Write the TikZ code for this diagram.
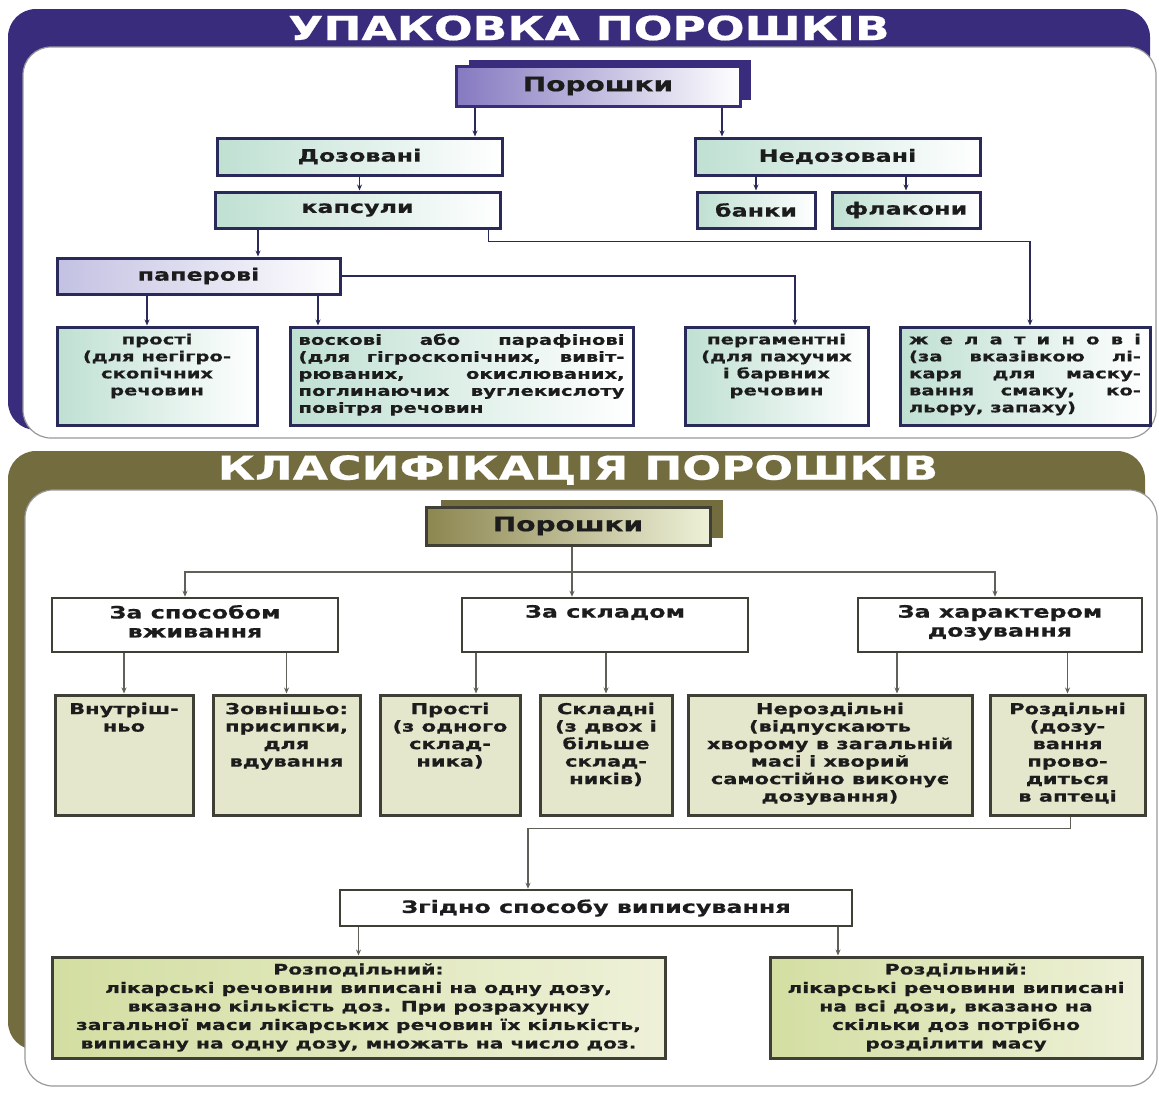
\documentclass[tikz,border=0pt]{standalone}
\usepackage{fontspec}
\setmainfont{DejaVu Sans}
\newfontfamily\widefont{DejaVu Sans}[FakeStretch=1.4, FakeBold=0.5]
\newfontfamily\titlefont{DejaVu Sans}[FakeStretch=1.38, FakeBold=0.6]
\usetikzlibrary{arrows.meta,positioning}

\definecolor{upurple}{HTML}{3A2C7C}
\definecolor{unavy}{HTML}{2A2A5A}
\definecolor{uteal}{HTML}{BFE0D2}
\definecolor{ulav}{HTML}{C3C1E2}
\definecolor{umid}{HTML}{8579C0}
\definecolor{kolive}{HTML}{736C3E}
\definecolor{kdark}{HTML}{3F3F35}
\definecolor{kfill}{HTML}{E4E7CB}
\definecolor{kgreen}{HTML}{D3DEA2}
\definecolor{kpale}{HTML}{EEF1D8}
\definecolor{kpor}{HTML}{8C8650}
\definecolor{kline}{HTML}{606058}
\definecolor{textdark}{HTML}{1C1C1C}

\begin{document}
\begin{tikzpicture}[x=1pt, y=-1pt,
  paneltitle/.style={text=white, inner sep=0pt, font=\titlefont\bfseries\fontsize{33}{33}\selectfont},
  panel/.style={draw=black!40, line width=1.2pt, fill=white, rounded corners=28pt},
  ubox/.style={draw=unavy, line width=3pt, left color=uteal, right color=white, inner sep=0pt,
    minimum height=37pt, text=textdark, font=\widefont\bfseries\fontsize{17}{20}\selectfont},
  utext/.style={inner sep=0pt, text=textdark, font=\widefont\bfseries\fontsize{14}{17}\selectfont},
  uconn/.style={draw=unavy, line width=1.3pt, -{Stealth[length=6pt,width=5pt]}},
  kbox/.style={draw=kdark, line width=3pt, fill=kfill, inner sep=0pt, minimum height=120pt},
  kwhite/.style={draw=kdark, line width=2.5pt, fill=white, inner sep=0pt, text=textdark,
    font=\widefont\bfseries\fontsize{17}{19}\selectfont},
  ktext/.style={inner sep=0pt, align=center, text=textdark, font=\widefont\bfseries\fontsize{15}{17.5}\selectfont},
  kconn/.style={draw=kline, line width=1.3pt, -{Stealth[length=6pt,width=5pt]}},
  headtext/.style={text=textdark, font=\widefont\bfseries\fontsize{20}{20}\selectfont},
]
\useasboundingbox (0,0) rectangle (1159,1100);
\fill[white] (0,0) rectangle (1159,1100);

% upper panel
\fill[upurple, rounded corners=28pt] (8,9) rectangle (1150,430);
\draw[panel] (23,47) rectangle (1156,438);
\node[paneltitle] (utitle) at (589,28) {УПАКОВКА ПОРОШКІВ};

\node[fill=upurple, minimum width=282pt, minimum height=40pt] (uporback) at (610,80) {};
\node[headtext, draw=upurple, line width=3pt, left color=umid, right color=white,
  minimum width=284pt, minimum height=40pt] (upor) at (598,86) {Порошки};

\node[ubox, minimum width=285pt] (dozovani) at (359.5,156.5) {Дозовані};
\node[ubox, minimum width=285pt] (nedozovani) at (837.5,156.5) {Недозовані};
\node[ubox, minimum width=285pt, minimum height=36pt] (kapsuly) at (357.5,210) {капсули};
\node[ubox, minimum width=118pt, minimum height=36pt] (banky) at (756,210) {банки};
\node[ubox, minimum width=148pt, minimum height=36pt] (flakony) at (906,210) {флакони};
\node[ubox, left color=ulav, minimum width=283pt, minimum height=36pt] (paperovi) at (198.5,276) {паперові};

\node[ubox, minimum width=200pt, minimum height=98pt] (prosti) at (157,376) {};
\node[ubox, minimum width=343pt, minimum height=98pt] (voskovi) at (461.5,376) {};
\node[ubox, minimum width=183pt, minimum height=98pt] (perhamentni) at (776.5,376) {};
\node[ubox, minimum width=250pt, minimum height=98pt] (zhelatynovi) at (1025,376) {};

\node[utext, align=center, below=8pt of prosti.north] (prostitxt)
  {прості\\(для негігро-\\скопічних\\речовин};
\node[utext, align=justify, text width=326pt, below=8pt of voskovi.north] (voskovitxt)
  {воскові або парафінові\linebreak (для гігроскопічних, вивіт-\linebreak
   рюваних, окислюваних,\linebreak поглинаючих вуглекислоту\linebreak повітря речовин};
\node[utext, align=center, below=8pt of perhamentni.north] (perhamentnitxt)
  {пергаментні\\(для пахучих\\і барвних\\речовин};
\node[utext, align=justify, text width=232pt, below=8pt of zhelatynovi.north] (zhelatynovitxt)
  {ж е л а т и н о в і\linebreak (за вказівкою лі-\linebreak каря для маску-\linebreak
   вання смаку, ко-\linebreak льору, запаху)};

\draw[uconn] ([xshift=-123pt]upor.south) -- ([xshift=115.5pt]dozovani.north);
\draw[uconn] ([xshift=124pt]upor.south) -- ([xshift=-115.5pt]nedozovani.north);
\draw[uconn] (dozovani.south) -- (dozovani.south |- kapsuly.north);
\draw[uconn] (banky.north |- nedozovani.south) -- (banky.north);
\draw[uconn] (flakony.north |- nedozovani.south) -- (flakony.north);
\draw[uconn] ([xshift=-99.5pt]kapsuly.south) -- ([xshift=59.5pt]paperovi.north);
\draw[uconn] ([xshift=-13pt]kapsuly.south east) -- ++(0,12) -| ([xshift=5pt]zhelatynovi.north);
\draw[uconn] (paperovi.east) -| ([xshift=18.5pt]perhamentni.north);
\draw[uconn] ([xshift=-51.5pt]paperovi.south) -- ([xshift=-10pt]prosti.north);
\draw[uconn] ([xshift=119.5pt]paperovi.south) -- ([xshift=-143.5pt]voskovi.north);

% lower panel
\fill[kolive, rounded corners=28pt] (8,451) rectangle (1145,1050);
\draw[panel] (25,490) rectangle (1157,1086);
\node[paneltitle] (ktitle) at (578,470) {КЛАСИФІКАЦІЯ ПОРОШКІВ};

\node[fill=kolive, minimum width=282pt, minimum height=38pt] (kporback) at (582,519) {};
\node[headtext, draw=kdark, line width=3pt, left color=kpor, right color=kpale,
  minimum width=284pt, minimum height=38pt] (kpor) at (568,526) {Порошки};

\node[kwhite, minimum width=286pt, minimum height=54pt] (spo) at (195,625) {};
\node[kwhite, minimum width=286pt, minimum height=54pt] (sklad) at (605,625) {};
\node[kwhite, minimum width=284pt, minimum height=54pt] (khar) at (1000,625) {};
\node[kwhite, draw=none, fill=none, align=center, below=7pt of spo.north] (spotxt) {За способом\\вживання};
\node[kwhite, draw=none, fill=none, align=center, below=7pt of sklad.north] (skladtxt) {За складом};
\node[kwhite, draw=none, fill=none, align=center, below=7pt of khar.north] (khartxt) {За характером\\дозування};

\node[kbox, minimum width=138pt] (vnutr) at (124,755) {};
\node[kbox, minimum width=147pt] (zovn) at (286.5,755) {};
\node[kbox, minimum width=140pt] (prostykl) at (450,755) {};
\node[kbox, minimum width=132pt] (skladni) at (606,755) {};
\node[kbox, minimum width=284pt] (nerozd) at (830,755) {};
\node[kbox, minimum width=155pt] (rozd) at (1067.5,755) {};

\node[ktext, below=9pt of vnutr.north] (vnutrtxt) {Внутріш-\\ньо};
\node[ktext, below=9pt of zovn.north] (zovntxt) {Зовнішьо:\\присипки,\\для\\вдування};
\node[ktext, below=9pt of prostykl.north] (prostykltxt) {Прості\\(з одного\\склад-\\ника)};
\node[ktext, below=9pt of skladni.north] (skladnitxt) {Складні\\(з двох і\\більше\\склад-\\ників)};
\node[ktext, below=9pt of nerozd.north] (nerozdtxt) {Нероздільні\\(відпускають\\хворому в загальній\\масі і хворий\\самостійно виконує\\дозування)};
\node[ktext, below=9pt of rozd.north] (rozdtxt) {Роздільні\\(дозу-\\вання\\прово-\\диться\\в аптеці};

\node[kwhite, minimum width=512pt, minimum height=36pt] (zgidno) at (596,908) {Згідно способу виписування};

\node[ktext, draw=kdark, line width=3pt, left color=kgreen, right color=kpale,
  minimum width=613pt, minimum height=101pt, font=\widefont\bfseries\fontsize{14.5}{18.5}\selectfont] (rozpod) at (358.5,1007.5)
  {Розподільний:\\лікарські речовини виписані на одну дозу,\\вказано кількість доз. При розрахунку\\загальної маси лікарських речовин їх кількість,\\виписану на одну дозу, множать на число доз.};
\node[ktext, draw=kdark, line width=3pt, left color=kgreen, right color=kpale,
  minimum width=372pt, minimum height=101pt, font=\widefont\bfseries\fontsize{14.5}{18.5}\selectfont] (rozdil) at (956,1007.5)
  {Роздільний:\\лікарські речовини виписані\\на всі дози, вказано на\\скільки доз потрібно\\розділити масу};

\coordinate (kbus) at (572,572);
\draw[kline, line width=1.3pt] ([xshift=4pt]kpor.south) -- (kbus);
\draw[kconn] (kbus) -| ([xshift=-10pt]spo.north);
\draw[kconn] (kbus) -- ([xshift=-33pt]sklad.north);
\draw[kconn] (kbus) -| ([xshift=-5pt]khar.north);
\draw[kconn] (vnutr.north |- spo.south) -- (vnutr.north);
\draw[kconn] (zovn.north |- spo.south) -- (zovn.north);
\draw[kconn] ([xshift=-129pt]sklad.south) -- ([xshift=26pt]prostykl.north);
\draw[kconn] (skladni.north |- sklad.south) -- (skladni.north);
\draw[kconn] ([xshift=-103pt]khar.south) -- ([xshift=67pt]nerozd.north);
\draw[kconn] (rozd.north |- khar.south) -- (rozd.north);
\draw[kconn] ([xshift=3pt]rozd.south) -- ++(0,12) -| ([xshift=-68pt]zgidno.north);
\draw[kconn] (rozpod.north |- zgidno.south) -- (rozpod.north);
\draw[kconn] ([xshift=242pt]zgidno.south) -- ([xshift=-118pt]rozdil.north);
\end{tikzpicture}
\end{document}
